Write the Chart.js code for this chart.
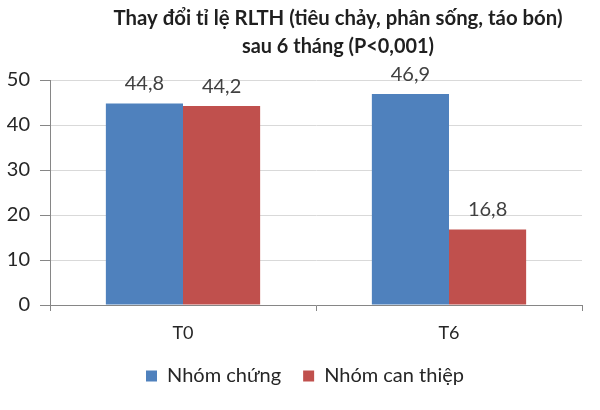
<!DOCTYPE html>
<html>
<head>
<meta charset="utf-8">
<script src="https://cdn.jsdelivr.net/npm/chart.js@4"></script>
<style>
  html, body { margin: 0; padding: 0; background: #fff; }
  #wrap { width: 600px; height: 410px; }
</style>
</head>
<body>
<div id="wrap"><canvas id="chart" width="600" height="410"></canvas></div>
<script>
const categories = ['T0', 'T6'];
const controlValues = [44.8, 46.9];
const interventionValues = [44.2, 16.8];
const seriesNames = ['Nhóm chứng', 'Nhóm can thiệp'];
const titleLines = ['Thay đổi tỉ lệ RLTH (tiêu chảy, phân sống, táo bón)', 'sau 6 tháng (P<0,001)'];

const FONT = "Lato, 'Noto Sans', sans-serif";

// draws the value above each bar, decimal comma
const barLabels = {
  id: 'barLabels',
  afterDatasetsDraw(chart) {
    const ctx = chart.ctx;
    ctx.save();
    ctx.font = '20px ' + FONT;
    ctx.fillStyle = '#404040';
    ctx.textAlign = 'center';
    ctx.textBaseline = 'alphabetic';
    chart.data.datasets.forEach((ds, i) => {
      chart.getDatasetMeta(i).data.forEach((bar, j) => {
        const txt = ds.data[j].toFixed(1).replace('.', ',');
        ctx.fillText(txt, bar.x, bar.y - 13);
      });
    });
    ctx.restore();
  }
};

// two line title, a bit right of canvas center like the original
const chartTitle = {
  id: 'chartTitle',
  afterDraw(chart) {
    const ctx = chart.ctx;
    ctx.save();
    ctx.font = 'bold 21px ' + FONT;
    ctx.fillStyle = '#1f1f1f';
    ctx.textAlign = 'center';
    ctx.textBaseline = 'alphabetic';
    ctx.fillText(titleLines[0], 338, 25, 449);
    ctx.fillText(titleLines[1], 338, 53, 192);
    ctx.restore();
  }
};

// legend sits a little left of the plot centre in the original
const legendShift = {
  id: 'legendShift',
  afterLayout(chart) {
    if (chart.legend) {
      chart.legend.left -= 11;
      chart.legend.right -= 11;
    }
  }
};

new Chart(document.getElementById('chart'), {
  type: 'bar',
  data: {
    labels: categories,
    datasets: [
      { label: seriesNames[0], data: controlValues, backgroundColor: '#4F81BD' },
      { label: seriesNames[1], data: interventionValues, backgroundColor: '#C0504D' }
    ]
  },
  options: {
    responsive: false,
    animation: false,
    layout: { padding: { top: 80, right: 18, left: 0, bottom: 14 } },
    datasets: { bar: { categoryPercentage: 0.58, barPercentage: 1.0 } },
    scales: {
      x: {
        grid: { drawOnChartArea: false, offset: true, tickLength: 6, tickColor: '#868686' },
        border: { color: '#868686' },
        ticks: { color: '#262626', font: { family: FONT, size: 18 }, padding: 11 },
        afterFit(scale) { scale.height = 39; }
      },
      y: {
        min: 0, max: 50,
        ticks: { stepSize: 10, color: '#262626', font: { family: FONT, size: 20 }, padding: 10 },
        grid: { color: '#D9D9D9', tickColor: '#868686', tickLength: 10 },
        border: { color: '#868686' },
        afterFit(scale) { scale.width = 50; }
      }
    },
    plugins: {
      title: { display: false },
      tooltip: { enabled: false },
      legend: {
        position: 'bottom',
        fullSize: false,
        labels: {
          boxWidth: 11, boxHeight: 11, padding: 22,
          color: '#262626',
          font: { family: FONT, size: 20 }
        }
      }
    }
  },
  plugins: [barLabels, chartTitle, legendShift]
});
</script>
</body>
</html>
